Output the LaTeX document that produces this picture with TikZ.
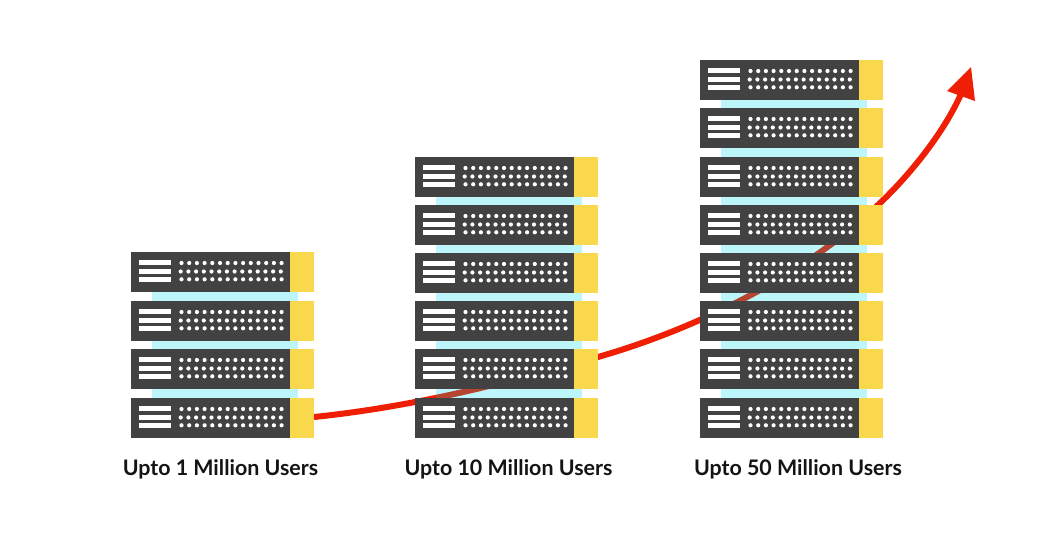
\documentclass[tikz,border=0pt]{standalone}
\usepackage{fontspec}
\setmainfont{Lato}
\definecolor{srvdark}{HTML}{424242}
\definecolor{srvyellow}{HTML}{F9D84E}
\definecolor{srvcyan}{HTML}{BDF6FA}
\definecolor{trendred}{HTML}{EE1F04}
\definecolor{trendbrown}{HTML}{B5452F}
\definecolor{labelink}{HTML}{141414}
\newcommand{\trendpath}{(314,417) .. controls (410,407) and (500,385) .. (598,357) .. controls (692,330) and (800,279) .. (878,205) .. controls (913,172) and (945,130) .. (961,94)}
\tikzset{
  x=1pt,y=-1pt,
  serverpic/.pic={
    \fill[srvdark] (0,0) rectangle (159,40);
    \fill[srvyellow] (159,0) rectangle (183,40);
    \foreach \by in {8,16.5,25} \fill[white] (8,\by) rectangle (40,\by+5);
    \foreach \ry/\off in {11/0,19.5/-0.8,27.3/0}
      \foreach \k in {0,...,13} \fill[white] (50.5+\off+\k*7.7,\ry) circle[radius=2.1pt];
  },
  gapband/.style={fill=srvcyan},
  trendline/.style={line width=6pt},
  stacklabel/.style={font=\fontsize{21.4}{25}\selectfont\bfseries,text=labelink,inner sep=0pt,anchor=center},
}
\newcommand{\gap}[2]{%
  \fill[gapband] (#1+21,#2+40) rectangle (#1+167,#2+49);
  \begin{scope}
    \clip (#1+21,#2+40) rectangle (#1+167,#2+49);
    \draw[trendline,trendbrown] \trendpath;
  \end{scope}}
\begin{document}
\begin{tikzpicture}
\useasboundingbox (0,0) rectangle (1055,542);
\fill[white] (0,0) rectangle (1055,542);
\draw[trendline,trendred] \trendpath;
\fill[trendred] (971,67) -- (947,91) -- (975,101) -- cycle;
% gaps
\foreach \t in {252,301,349} {\gap{131}{\t}}
\foreach \t in {157,205,253,301,349} {\gap{415}{\t}}
\foreach \t in {60,108,157,205,253,301,349} {\gap{700}{\t}}
% servers
\foreach \t in {252,301,349,398} \pic at (131,\t) {serverpic};
\foreach \t in {157,205,253,301,349,398} \pic at (415,\t) {serverpic};
\foreach \t in {60,108,157,205,253,301,349,398} \pic at (700,\t) {serverpic};
\node[stacklabel] (lab1) at (220.5,469.5) {Upto 1 Million Users};
\node[stacklabel] (lab2) at (508.5,469.5) {Upto 10 Million Users};
\node[stacklabel] (lab3) at (798,469.5) {Upto 50 Million Users};
\end{tikzpicture}
\end{document}
